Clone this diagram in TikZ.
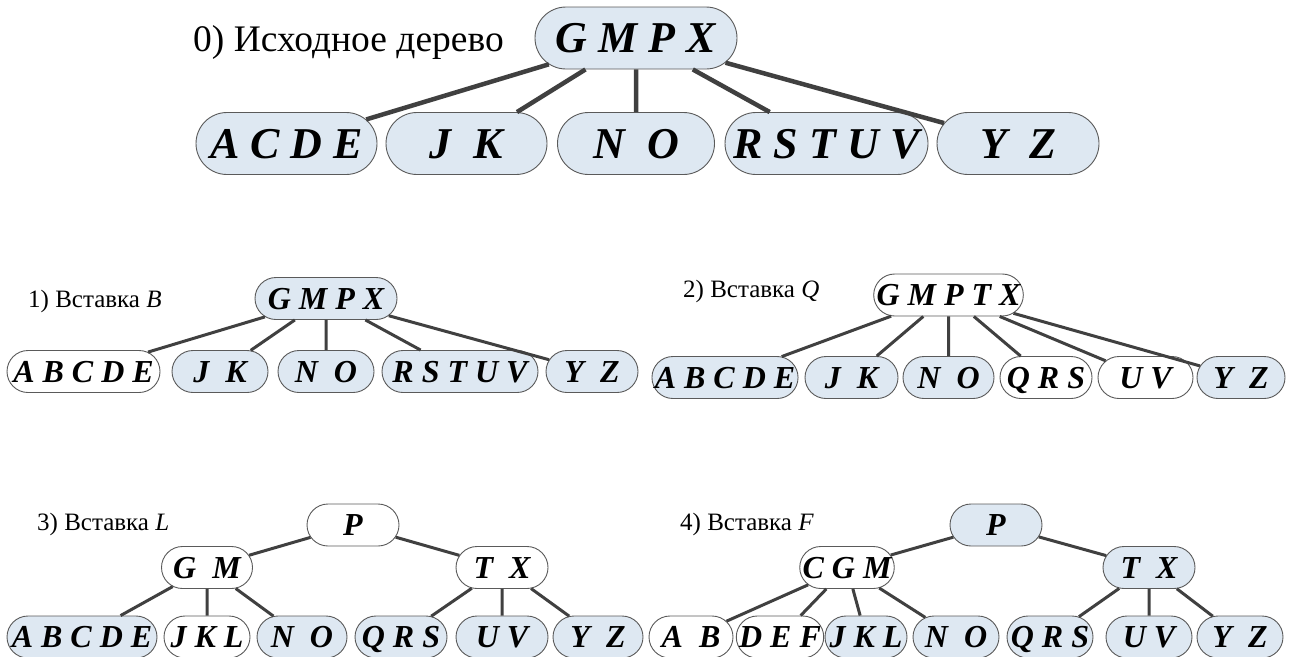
\documentclass[tikz,border=0pt]{standalone}
\usepackage{fontspec}
\setmainfont{Liberation Serif}
\usetikzlibrary{shapes.misc}

\definecolor{keyfill}{RGB}{222,232,242}
\definecolor{keyline}{RGB}{90,90,90}
\definecolor{linkcol}{RGB}{64,64,64}

\tikzset{
  keybox/.style={rounded rectangle, draw=keyline, line width=0.9pt, inner sep=0pt},
  bluekey/.style={keybox, fill=keyfill},
  whitekey/.style={keybox, fill=white},
  bigkey/.style={minimum height=62pt, text height=29pt, text depth=0pt,
                 font=\rmfamily\fontsize{44}{44}\selectfont\bfseries\itshape},
  smallkey/.style={minimum height=42pt, text height=21pt, text depth=0pt,
                   font=\rmfamily\fontsize{32}{32}\selectfont\bfseries\itshape},
  biglink/.style={draw=linkcol, line width=4.5pt},
  link/.style={draw=linkcol, line width=3pt},
  caption/.style={anchor=base west, inner sep=0pt, font=\rmfamily\fontsize{25}{25}\selectfont},
  bigcaption/.style={anchor=base west, inner sep=0pt, font=\rmfamily\fontsize{37.5}{37.5}\selectfont},
}
\newcommand{\gapK}{\hspace{0.5em}}

\begin{document}
\begin{tikzpicture}[x=1pt, y=-1pt]
\useasboundingbox (0,0) rectangle (1297,656);

% ---- 0) initial tree
\node[bigcaption] (t0) at (193,51) {0) Исходное дерево};
\node[bluekey, bigkey, minimum width=202pt] (r0) at (636,38) {G M P X};
\node[bluekey, bigkey, minimum width=181pt] (a0) at (286.5,143.5) {A C D E};
\node[bluekey, bigkey, minimum width=161pt] (b0) at (466.5,143.5) {J\gapK K};
\node[bluekey, bigkey, minimum width=157pt] (c0) at (636,143.5) {N\gapK O};
\node[bluekey, bigkey, minimum width=203pt] (d0) at (826.5,143.5) {R S T U V};
\node[bluekey, bigkey, minimum width=162pt] (e0) at (1018,143.5) {Y\gapK Z};
\foreach \c in {a0,b0,c0,d0,e0} \draw[biglink] (r0) -- (\c);

% ---- 1) insert B
\node[caption] (t1) at (28,307) {1) Вставка \textit{B}};
\node[bluekey, smallkey, minimum width=142pt] (r1) at (326,298.5) {G M P X};
\node[whitekey, smallkey, minimum width=153pt] (a1) at (83.5,371.5) {A B C D E};
\node[bluekey, smallkey, minimum width=96pt] (b1) at (220,371.5) {J\gapK K};
\node[bluekey, smallkey, minimum width=96pt] (c1) at (326,371.5) {N\gapK O};
\node[bluekey, smallkey, minimum width=156pt] (d1) at (460,371.5) {R S T U V};
\node[bluekey, smallkey, minimum width=92pt] (e1) at (592,371.5) {Y\gapK Z};
\foreach \c in {a1,b1,c1,d1,e1} \draw[link] (r1) -- (\c);

% ---- 2) insert Q
\node[caption] (t2) at (683,297) {2) Вставка \textit{Q}};
\node[whitekey, smallkey, minimum width=147pt] (r2) at (948.5,295) {G M P T X};
\node[bluekey, smallkey, minimum width=144pt] (a2) at (725,377.5) {A B C D E};
\node[bluekey, smallkey, minimum width=93pt] (b2) at (851.5,377.5) {J\gapK K};
\node[bluekey, smallkey, minimum width=91pt] (c2) at (948.5,377.5) {N\gapK O};
\node[whitekey, smallkey, minimum width=92pt] (d2) at (1046,377.5) {Q R S};
\node[whitekey, smallkey, minimum width=95pt] (e2) at (1145.5,377.5) {U V};
\node[bluekey, smallkey, minimum width=88pt] (f2) at (1241,377.5) {Y\gapK Z};
\foreach \c in {a2,b2,c2,d2,e2,f2} \draw[link] (r2) -- (\c);

% ---- 3) insert L
\node[caption] (t3) at (37,530) {3) Вставка \textit{L}};
\node[whitekey, smallkey, minimum width=92pt] (r3) at (353,525) {P};
\node[whitekey, smallkey, minimum width=91pt] (m3a) at (207,567.5) {G\gapK M};
\node[whitekey, smallkey, minimum width=92pt] (m3b) at (502,567.5) {T\gapK X};
\node[bluekey, smallkey, minimum width=150pt] (l3a) at (82,637) {A B C D E};
\node[whitekey, smallkey, minimum width=86pt] (l3b) at (207,637) {J K L};
\node[bluekey, smallkey, minimum width=90pt] (l3c) at (302,637) {N\gapK O};
\node[bluekey, smallkey, minimum width=92pt] (l3d) at (401,637) {Q R S};
\node[bluekey, smallkey, minimum width=92pt] (l3e) at (502,637) {U V};
\node[bluekey, smallkey, minimum width=90pt] (l3f) at (598,637) {Y\gapK Z};
\draw[link] (r3) -- (m3a);
\draw[link] (r3) -- (m3b);
\foreach \c in {l3a,l3b,l3c} \draw[link] (m3a) -- (\c);
\foreach \c in {l3d,l3e,l3f} \draw[link] (m3b) -- (\c);

% ---- 4) insert F
\node[caption] (t4) at (680,530) {4) Вставка \textit{F}};
\node[bluekey, smallkey, minimum width=92pt] (r4) at (996,525) {P};
\node[whitekey, smallkey, minimum width=94pt] (m4a) at (847,567.5) {C G M};
\node[bluekey, smallkey, minimum width=92pt] (m4b) at (1149,567.5) {T\gapK X};
\node[whitekey, smallkey, minimum width=84pt] (l4a) at (691,637) {A\gapK B};
\node[whitekey, smallkey, minimum width=82pt] (l4b) at (780,637) {D E F};
\node[bluekey, smallkey, minimum width=82pt] (l4c) at (866,637) {J K L};
\node[bluekey, smallkey, minimum width=86pt] (l4d) at (956,637) {N\gapK O};
\node[bluekey, smallkey, minimum width=86pt] (l4e) at (1050,637) {Q R S};
\node[bluekey, smallkey, minimum width=86pt] (l4f) at (1149,637) {U V};
\node[bluekey, smallkey, minimum width=86pt] (l4g) at (1240,637) {Y\gapK Z};
\draw[link] (r4) -- (m4a);
\draw[link] (r4) -- (m4b);
\foreach \c in {l4a,l4b,l4c,l4d} \draw[link] (m4a) -- (\c);
\foreach \c in {l4e,l4f,l4g} \draw[link] (m4b) -- (\c);
\end{tikzpicture}
\end{document}
